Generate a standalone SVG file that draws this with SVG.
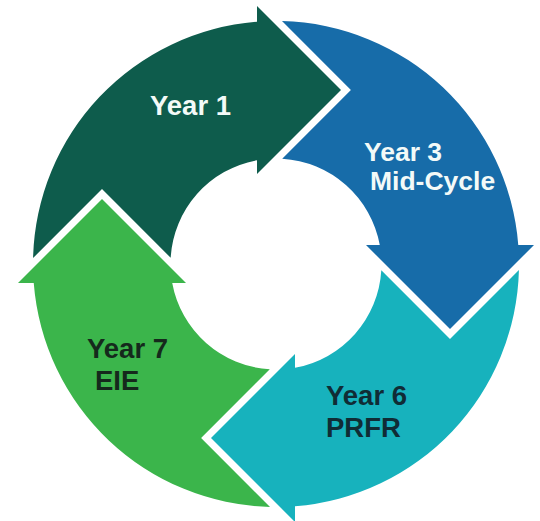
<svg xmlns="http://www.w3.org/2000/svg" width="540" height="521" viewBox="0 0 540 521">
  <defs>
    <path id="seg" d="M -242.93 -5.98 A 243 243 0 0 1 -19 -242.26 L -19 -258 L 65 -174 L -19 -90 L -19 -103.77 A 105.5 105.5 0 0 0 -105.32 -6.22 L -174 -74.9 Z"/>
  </defs>
  <style>
    .lbl { font-family: "Liberation Sans", Arial, Helvetica, sans-serif; font-weight: bold; font-size: 27.5px; }
    .sm { font-size: 26.5px; }
    .light { fill: #f3faf8; }
    .dark7 { fill: #15291c; }
    .dark6 { fill: #102c35; }
  </style>
  <rect width="540" height="521" fill="#ffffff"/>
  <g id="year1">
    <use href="#seg" transform="translate(276,264)" fill="#0e5c4c"/>
    <text class="lbl light" x="150" y="115">Year 1</text>
  </g>
  <g id="year3">
    <use href="#seg" transform="translate(276,264) rotate(90)" fill="#176ca9"/>
    <text class="lbl sm light" x="364" y="160.5">Year 3</text>
    <text class="lbl sm light" x="370" y="190">Mid-Cycle</text>
  </g>
  <g id="year6">
    <use href="#seg" transform="translate(276,264) rotate(180)" fill="#17b2bd"/>
    <text class="lbl dark6" x="326" y="405">Year 6</text>
    <text class="lbl dark6" x="326" y="437">PRFR</text>
  </g>
  <g id="year7">
    <use href="#seg" transform="translate(276,264) rotate(270)" fill="#3bb54b"/>
    <text class="lbl dark7" x="87" y="358">Year 7</text>
    <text class="lbl dark7" x="95" y="390">EIE</text>
  </g>
  <g id="connectors"/>
</svg>
